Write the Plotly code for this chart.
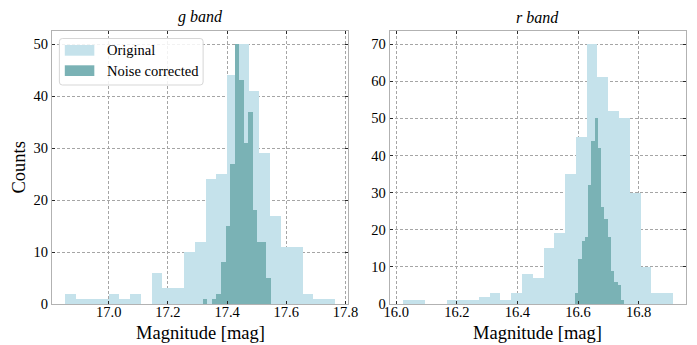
import numpy as np
import plotly.graph_objects as go

# ---------------- data ----------------
# g band
g_orig_range = (16.854, 17.764)           # 25 bins
g_orig_counts = [2, 1, 1, 1, 2, 1, 2, 0, 6, 3, 3, 10, 12, 24, 25, 44, 50, 41, 29, 17, 11, 11, 2, 1, 1]
g_corr_range = (17.318, 17.548)           # 15 bins
g_corr_counts = [1, 0, 1, 2, 8, 15, 27, 50, 43, 31, 37, 18, 12, 12, 5]

# r band
r_orig_range = (16.0227, 16.912)          # 25 bins
r_orig_counts = [1, 1, 0, 0, 1, 1, 1, 2, 3, 1, 3, 8, 7, 15, 19, 35, 45, 70, 61, 52, 50, 30, 10, 3, 3]
r_corr_range = (16.589, 16.751)           # 15 bins
r_corr_counts = [3, 12, 17, 18, 32, 44, 50, 42, 26, 23, 18, 9, 6, 5, 1]

g_xticks = [17.0, 17.2, 17.4, 17.6, 17.8]
r_xticks = [16.0, 16.2, 16.4, 16.6, 16.8]
g_yticks = [0, 10, 20, 30, 40, 50]
r_yticks = [0, 10, 20, 30, 40, 50, 60, 70]

panel_titles = ["g band", "r band"]
series_names = ["Original", "Noise corrected"]
x_label = "Magnitude [mag]"
y_label = "Counts"

# ---------------- styling ----------------
C_ORIG = "rgb(197,226,235)"
C_CORR = "rgb(122,178,181)"
FONT = "Liberation Serif, Times New Roman, serif"
FRAME = "rgb(178,178,178)"
GRID = "rgb(165,165,165)"

W, H = 697, 345
ML, MR, MT, MB = 52, 1, 31, 41
PW = W - ML - MR
PH = H - MT - MB
left_dom = [0.0, 301.0 / PW]
right_dom = [(395.0 - ML) / PW, 1.0]


def px(x):
    return (x - ML) / PW


def py(y):
    return (H - MB - y) / PH


def bars(rng, counts):
    n = len(counts)
    edges = np.linspace(rng[0], rng[1], n + 1)
    centers = (edges[:-1] + edges[1:]) / 2
    widths = np.diff(edges)
    return centers, widths, counts


def padded(lo, hi, frac=0.05):
    d = hi - lo
    return [lo - frac * d, hi + frac * d]


fig = go.Figure()

panels = [
    ("x", "y", g_orig_range, g_orig_counts, g_corr_range, g_corr_counts),
    ("x2", "y2", r_orig_range, r_orig_counts, r_corr_range, r_corr_counts),
]
for xa, ya, orng, ocnt, crng, ccnt in panels:
    c, w, v = bars(orng, ocnt)
    fig.add_trace(go.Bar(x=c, y=v, width=w, marker=dict(color=C_ORIG, line=dict(width=0)),
                         name=series_names[0], showlegend=False, xaxis=xa, yaxis=ya))
for xa, ya, orng, ocnt, crng, ccnt in panels:
    c, w, v = bars(crng, ccnt)
    fig.add_trace(go.Bar(x=c, y=v, width=w, marker=dict(color=C_CORR, line=dict(width=0)),
                         name=series_names[1], showlegend=False, xaxis=xa, yaxis=ya))

common_axis = dict(
    showline=True, linecolor=FRAME, linewidth=1, mirror="ticks",
    ticks="inside", ticklen=3, tickwidth=1, tickcolor="rgb(40,40,40)",
    showgrid=True, gridcolor=GRID, griddash="3px,2px", gridwidth=0.8,
    zeroline=False, layer="above traces",
    tickfont=dict(family=FONT, size=14.5, color="black"),
)

g_xr = padded(*g_orig_range)
r_xr = padded(*r_orig_range)

fig.update_layout(
    width=W, height=H,
    margin=dict(l=ML, r=MR, t=MT, b=MB),
    paper_bgcolor="white", plot_bgcolor="white",
    barmode="overlay", bargap=0,
    font=dict(family=FONT, color="black"),
    showlegend=False,
    xaxis=dict(domain=left_dom, range=g_xr, tickvals=g_xticks,
               ticktext=[f"{t:.1f}" for t in g_xticks], anchor="y",
               ticklabelstandoff=-5, **common_axis),
    yaxis=dict(domain=[0, 1], range=[0, 52.5], tickvals=g_yticks, anchor="x",
               **common_axis),
    xaxis2=dict(domain=right_dom, range=r_xr, tickvals=r_xticks,
                ticktext=[f"{t:.1f}" for t in r_xticks], anchor="y2",
                ticklabelstandoff=-5, **common_axis),
    yaxis2=dict(domain=[0, 1], range=[0, 73.5], tickvals=r_yticks, anchor="x2",
                **common_axis),
)

shapes = []
annos = []

# legend (drawn manually, matplotlib-like: rounded box, wide patches)
bx0, bx1, by0, by1, rr = 59.5, 205.5, 38.5, 85, 3
path = (f"M {px(bx0+rr)},{py(by0)} L {px(bx1-rr)},{py(by0)} "
        f"Q {px(bx1)},{py(by0)} {px(bx1)},{py(by0+rr)} L {px(bx1)},{py(by1-rr)} "
        f"Q {px(bx1)},{py(by1)} {px(bx1-rr)},{py(by1)} L {px(bx0+rr)},{py(by1)} "
        f"Q {px(bx0)},{py(by1)} {px(bx0)},{py(by1-rr)} L {px(bx0)},{py(by0+rr)} "
        f"Q {px(bx0)},{py(by0)} {px(bx0+rr)},{py(by0)} Z")
shapes.append(dict(type="path", path=path, xref="paper", yref="paper",
                   fillcolor="rgba(255,255,255,0.85)", line=dict(color="rgb(215,215,215)", width=1),
                   layer="above"))
for (y0, y1), col, name in zip([(45, 55.7), (65.3, 76)], [C_ORIG, C_CORR], series_names):
    shapes.append(dict(type="rect", xref="paper", yref="paper", x0=px(65), x1=px(95),
                       y0=py(y0), y1=py(y1), fillcolor=col, line=dict(width=0), layer="above"))
    annos.append(dict(text=name, x=px(106), y=py((y0 + y1) / 2), xref="paper", yref="paper",
                      xanchor="left", yanchor="middle", showarrow=False,
                      font=dict(family=FONT, size=14.5, color="black")))

for dom, t in zip([left_dom, right_dom], panel_titles):
    xc = (dom[0] + dom[1]) / 2
    annos.append(dict(text=f"<i>{t}</i>", x=xc, y=1, xref="paper", yref="paper",
                      xanchor="center", yanchor="bottom", yshift=3, showarrow=False,
                      font=dict(family=FONT, size=16, color="black")))
    annos.append(dict(text=x_label, x=xc, y=py(333), xref="paper", yref="paper",
                      xanchor="center", yanchor="middle", showarrow=False,
                      font=dict(family=FONT, size=18.5, color="black")))
annos.append(dict(text=y_label, x=px(18), y=py(168), xref="paper", yref="paper",
                  xanchor="center", yanchor="middle", textangle=-90, showarrow=False,
                  font=dict(family=FONT, size=18.5, color="black")))
fig.update_layout(annotations=annos, shapes=shapes)

fig.write_html("out.html")
